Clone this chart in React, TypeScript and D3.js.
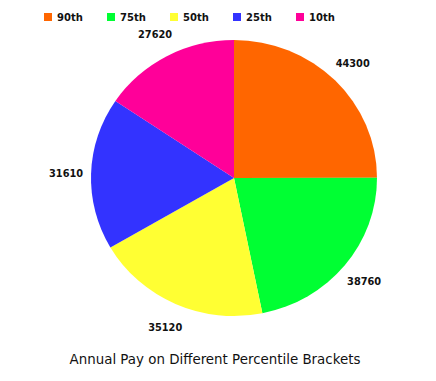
import React from "react";
import * as d3 from "d3";

const categories = ["90th", "75th", "50th", "25th", "10th"];
const values = [44300, 38760, 35120, 31610, 27620];
const colors = ["#FF6600", "#00FF33", "#FFFF33", "#3333FF", "#FF0099"];
const title = "Annual Pay on Different Percentile Brackets";

const W = 436;
const H = 381;
const cx = 234;
const cy = 178;
const rx = 143;
const ry = 138;

export default function App() {
  const pie = d3
    .pie<number>()
    .sort(null)
    .value((d) => d)(values);
  const arc = d3.arc<d3.PieArcDatum<number>>().innerRadius(0).outerRadius(rx);
  const labelFont = "'DejaVu Sans', sans-serif";
  return (
    <svg
      width={W}
      height={H}
      style={{ position: "absolute", left: 0, top: 0, background: "#fff" }}
    >
      <g transform={`translate(${cx},${cy}) scale(1,${ry / rx})`}>
        {pie.map((p, i) => (
          <path key={i} d={arc(p) || ""} fill={colors[i]} />
        ))}
      </g>
      {pie.map((p, i) => {
        const a = (p.startAngle + p.endAngle) / 2;
        const x = cx + (rx + 25) * Math.sin(a);
        const y = cy - (ry + 25) * Math.cos(a);
        return (
          <text
            key={i}
            x={x}
            y={y + 4}
            textAnchor="middle"
            fontFamily={labelFont}
            fontWeight="bold"
            fontSize={9.8}
            fill="#111"
          >
            {values[i]}
          </text>
        );
      })}
      {categories.map((c, i) => (
        <g key={c} transform={`translate(${44 + i * 63},13)`}>
          <rect width={8} height={8} fill={colors[i]} />
          <text
            x={13}
            y={8}
            fontFamily={labelFont}
            fontWeight="bold"
            fontSize={10}
            fill="#111"
          >
            {c}
          </text>
        </g>
      ))}
      <text
        x={215}
        y={364}
        textAnchor="middle"
        fontFamily="'Comic Sans MS', 'DejaVu Sans', sans-serif"
        fontSize={13.4}
        fill="#111"
      >
        {title}
      </text>
    </svg>
  );
}
